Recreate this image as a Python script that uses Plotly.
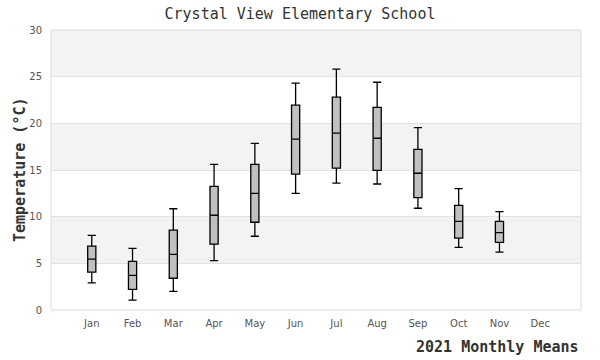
import plotly.graph_objects as go

months = ["Jan", "Feb", "Mar", "Apr", "May", "Jun", "Jul", "Aug", "Sep", "Oct", "Nov", "Dec"]
box_months = ["Jan", "Feb", "Mar", "Apr", "May", "Jun", "Jul", "Aug", "Sep", "Oct", "Nov"]
lower = [2.9, 1.05, 2.0, 5.3, 7.9, 12.5, 13.6, 13.5, 10.9, 6.7, 6.2]
q1 = [4.05, 2.2, 3.4, 7.05, 9.4, 14.55, 15.2, 14.95, 12.05, 7.7, 7.25]
median = [5.45, 3.7, 5.95, 10.15, 12.5, 18.3, 18.95, 18.4, 14.65, 9.5, 8.3]
q3 = [6.85, 5.2, 8.55, 13.25, 15.6, 21.95, 22.8, 21.7, 17.2, 11.2, 9.5]
upper = [8.0, 6.6, 10.85, 15.6, 17.85, 24.3, 25.8, 24.4, 19.55, 13.0, 10.55]

y_ticks = [0, 5, 10, 15, 20, 25, 30]

fig = go.Figure()
fig.add_trace(go.Box(
    x=box_months, q1=q1, median=median, q3=q3,
    lowerfence=lower, upperfence=upper,
    width=0.2, whiskerwidth=1,
    fillcolor="#c0c0c0",
    line=dict(color="#000000", width=1.3),
    hoverinfo="skip", showlegend=False,
))

shapes = []
for i in range(len(y_ticks) - 1):
    if i % 2 == 1:
        shapes.append(dict(type="rect", xref="paper", yref="y", x0=0, x1=1,
                           y0=y_ticks[i], y1=y_ticks[i + 1],
                           fillcolor="#f3f3f3", line=dict(width=0), layer="below"))
shapes.append(dict(type="rect", xref="paper", yref="paper", x0=0, x1=1, y0=0, y1=1,
                   line=dict(color="#dcdcdc", width=1), layer="below"))

fig.update_layout(
    width=600, height=360,
    margin=dict(l=51, r=19, t=30, b=50),
    paper_bgcolor="white", plot_bgcolor="white",
    title=dict(text="Crystal View Elementary School", x=0.5, xref="container",
               y=1 - 14 / 360, yref="container", yanchor="middle",
               font=dict(family="DejaVu Sans Mono", size=15, color="#333333")),
    shapes=shapes,
    xaxis=dict(type="category", categoryorder="array", categoryarray=months,
               tickvals=months, range=[-1, 12], showgrid=False, zeroline=False,
               showline=False, ticks="", ticklabelstandoff=6,
               tickfont=dict(family="DejaVu Sans", size=10, color="#555555")),
    yaxis=dict(range=[0, 30], tickvals=y_ticks, showgrid=True, gridcolor="#e2e2e2",
               gridwidth=1, zeroline=False, showline=False, ticks="",
               ticklabelstandoff=8,
               tickfont=dict(family="DejaVu Sans", size=10, color="#555555")),
    annotations=[
        dict(text="<b>2021 Monthly Means</b>", xref="paper", yref="paper",
             x=1, y=0, xanchor="right", yanchor="middle", yshift=-37, showarrow=False,
             font=dict(family="DejaVu Sans Mono", size=15, color="#333333")),
        dict(text="<b>Temperature (°C)</b>", xref="paper", yref="paper",
             x=0, y=0.5, xanchor="center", yanchor="middle", xshift=-31,
             textangle=-90, showarrow=False,
             font=dict(family="DejaVu Sans Mono", size=15, color="#333333")),
    ],
)

fig.write_html("out.html", config={"displayModeBar": False},
               post_script="document.body.style.margin='0';document.body.style.overflow='hidden';")
